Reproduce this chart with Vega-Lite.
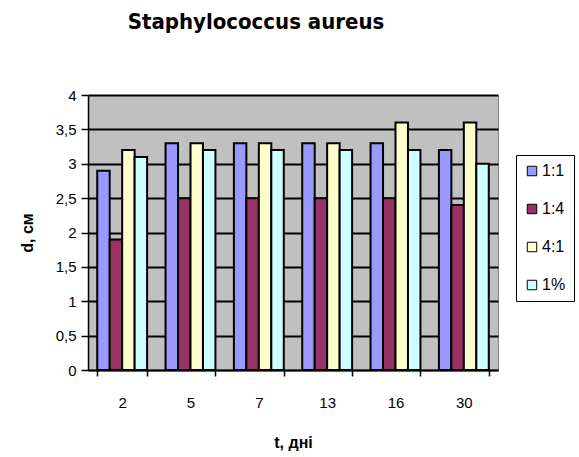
{
  "$schema": "https://vega.github.io/schema/vega-lite/v6.json",
  "width": 410,
  "height": 275,
  "autosize": {"type": "none"},
  "padding": {"left": 88, "top": 95, "right": 81, "bottom": 87},
  "background": "white",
  "config": {
    "font": "Liberation Sans",
    "view": {"fill": "#C0C0C0", "stroke": "#808080", "strokeWidth": 1}
  },
  "title": {
    "text": "Staphylococcus aureus",
    "fontSize": 22,
    "fontWeight": "bold",
    "font": "'DejaVu Sans Condensed', 'Liberation Sans', sans-serif",
    "color": "black",
    "anchor": "middle",
    "offset": 54,
    "dx": -37
  },
  "data": {
    "values": [
      {"t": "2", "series": "1:1", "d": 2.9},
      {"t": "2", "series": "1:4", "d": 1.9},
      {"t": "2", "series": "4:1", "d": 3.2},
      {"t": "2", "series": "1%", "d": 3.1},
      {"t": "5", "series": "1:1", "d": 3.3},
      {"t": "5", "series": "1:4", "d": 2.5},
      {"t": "5", "series": "4:1", "d": 3.3},
      {"t": "5", "series": "1%", "d": 3.2},
      {"t": "7", "series": "1:1", "d": 3.3},
      {"t": "7", "series": "1:4", "d": 2.5},
      {"t": "7", "series": "4:1", "d": 3.3},
      {"t": "7", "series": "1%", "d": 3.2},
      {"t": "13", "series": "1:1", "d": 3.3},
      {"t": "13", "series": "1:4", "d": 2.5},
      {"t": "13", "series": "4:1", "d": 3.3},
      {"t": "13", "series": "1%", "d": 3.2},
      {"t": "16", "series": "1:1", "d": 3.3},
      {"t": "16", "series": "1:4", "d": 2.5},
      {"t": "16", "series": "4:1", "d": 3.6},
      {"t": "16", "series": "1%", "d": 3.2},
      {"t": "30", "series": "1:1", "d": 3.2},
      {"t": "30", "series": "1:4", "d": 2.4},
      {"t": "30", "series": "4:1", "d": 3.6},
      {"t": "30", "series": "1%", "d": 3.0}
    ]
  },
  "mark": {"type": "bar", "stroke": "black", "strokeWidth": 2},
  "encoding": {
    "x": {
      "field": "t",
      "type": "nominal",
      "sort": ["2", "5", "7", "13", "16", "30"],
      "scale": {"paddingInner": 0.27, "paddingOuter": 0.135},
      "axis": {
        "title": "t, дні",
        "titleFontSize": 16,
        "titleFontWeight": "bold",
        "titleColor": "black",
        "titlePadding": 24,
        "labelAngle": 0,
        "labelFontSize": 15,
        "labelColor": "black",
        "labelPadding": 19,
        "tickBand": "extent",
        "tickColor": "black",
        "tickSize": 6,
        "tickWidth": 1.5,
        "domainColor": "black",
        "domainWidth": 1.5,
        "grid": false
      }
    },
    "xOffset": {"field": "series", "type": "nominal", "sort": ["1:1", "1:4", "4:1", "1%"]},
    "y": {
      "field": "d",
      "type": "quantitative",
      "scale": {"domain": [0, 4], "nice": false},
      "axis": {
        "title": "d, см",
        "titleFontSize": 16,
        "titleFontWeight": "bold",
        "titleColor": "black",
        "titlePadding": 20,
        "values": [0, 0.5, 1, 1.5, 2, 2.5, 3, 3.5, 4],
        "labelExpr": "replace(format(datum.value, ''), '.', ',')",
        "labelFontSize": 15,
        "labelColor": "black",
        "labelPadding": 5,
        "tickColor": "black",
        "tickSize": 7,
        "tickWidth": 1.5,
        "domainColor": "black",
        "domainWidth": 1.5,
        "grid": true,
        "gridColor": "black",
        "gridWidth": 2
      }
    },
    "color": {
      "field": "series",
      "type": "nominal",
      "sort": ["1:1", "1:4", "4:1", "1%"],
      "scale": {
        "domain": ["1:1", "1:4", "4:1", "1%"],
        "range": ["#9999FF", "#993366", "#FFFFCC", "#CCFFFF"]
      },
      "legend": {
        "title": null,
        "orient": "none",
        "legendX": 428,
        "legendY": 60,
        "strokeColor": "black",
        "fillColor": "white",
        "padding": 8,
        "symbolType": "square",
        "symbolSize": 90,
        "symbolStrokeColor": "black",
        "symbolStrokeWidth": 1,
        "labelFontSize": 16,
        "labelColor": "black",
        "rowPadding": 22,
        "labelOffset": 2
      }
    }
  }
}
